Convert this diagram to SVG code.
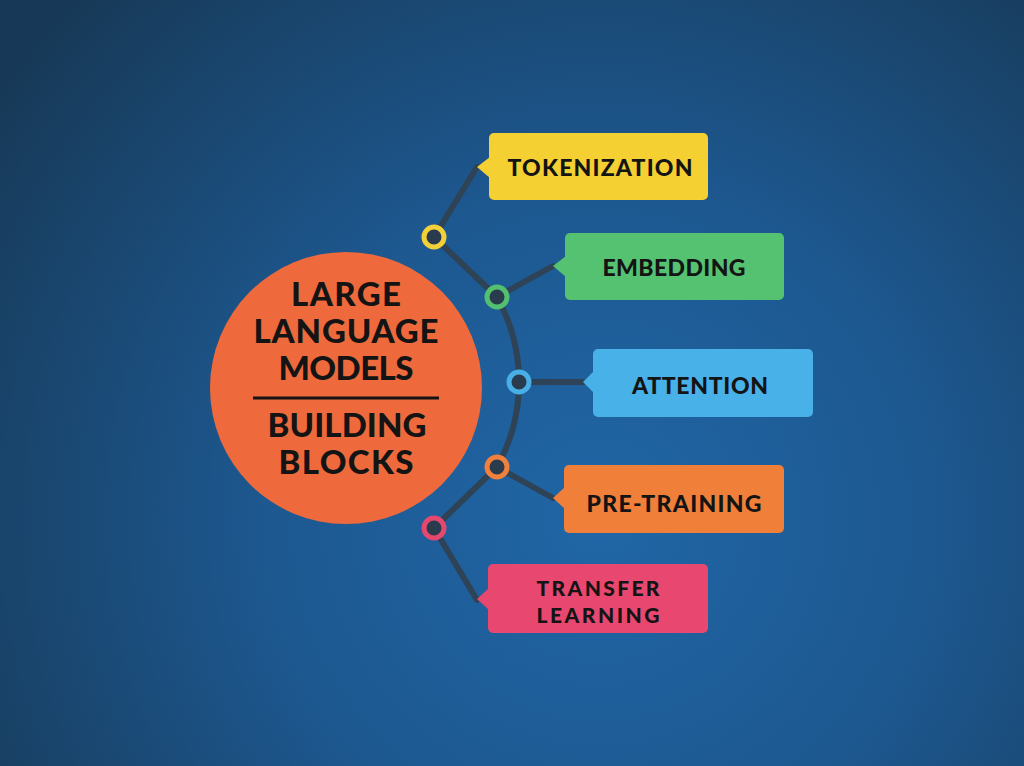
<svg xmlns="http://www.w3.org/2000/svg" width="1024" height="766" viewBox="0 0 1024 766">
<defs>
<radialGradient id="bg" cx="600" cy="520" r="740" gradientUnits="userSpaceOnUse">
<stop offset="0" stop-color="#2066a6"/>
<stop offset="0.45" stop-color="#1d5890"/>
<stop offset="1" stop-color="#173957"/>
</radialGradient>
<style>
.lbl{font-family:"Lato","Open Sans","Liberation Sans",sans-serif;font-weight:900;fill:#141414;font-size:23px;text-anchor:middle}
.lbl2{font-size:21px}
.big{font-family:"Lato","Open Sans","Liberation Sans",sans-serif;font-weight:900;fill:#141414;font-size:33px;text-anchor:middle}
.con{fill:none;stroke:#2f4357;stroke-width:6;stroke-linecap:round;stroke-linejoin:round}
.ring{fill:#2b3b4e;stroke-width:5}
</style>
</defs>
<rect width="1024" height="766" fill="url(#bg)"/>

<g id="connectors">
<path class="con" d="M434,237 L477,167"/>
<path class="con" d="M434,237 L497,297 A175,175 0 0 1 497,467 L434,528"/>
<path class="con" d="M497,297 L553,266"/>
<path class="con" d="M519,382 L583,382"/>
<path class="con" d="M497,467 L553,498"/>
<path class="con" d="M434,528 L477,600"/>
</g>

<g id="center">
<circle cx="346" cy="388" r="136" fill="#ee6a3c"/>
<text class="big" x="346" y="306" textLength="110" lengthAdjust="spacing">LARGE</text>
<text class="big" x="346" y="343" textLength="185" lengthAdjust="spacing">LANGUAGE</text>
<text class="big" x="346" y="380" textLength="135" lengthAdjust="spacing">MODELS</text>
<line x1="253" y1="398" x2="439" y2="398" stroke="#141414" stroke-width="3"/>
<text class="big" x="347" y="437" textLength="159" lengthAdjust="spacing">BUILDING</text>
<text class="big" x="346" y="474" textLength="135" lengthAdjust="spacing">BLOCKS</text>
</g>

<g id="dots">
<circle class="ring" cx="434" cy="237" r="10" stroke="#f2d03a"/>
<circle class="ring" cx="497" cy="297" r="10" stroke="#52c06e"/>
<circle class="ring" cx="519" cy="382" r="10" stroke="#48afe6"/>
<circle class="ring" cx="497" cy="467" r="10" stroke="#f0803c"/>
<circle class="ring" cx="434" cy="528" r="10" stroke="#e4486f"/>
</g>

<g id="tokenization">
<rect x="489" y="133" width="219" height="67" rx="5" fill="#f5d033"/>
<path d="M490,157 L477,167 L490,178 Z" fill="#f5d033"/>
<text class="lbl" x="600" y="176" textLength="185" lengthAdjust="spacing">TOKENIZATION</text>
</g>

<g id="embedding">
<rect x="565" y="233" width="219" height="67" rx="5" fill="#55c271"/>
<path d="M566,256 L553,266 L566,277 Z" fill="#55c271"/>
<text class="lbl" x="674" y="276" textLength="143" lengthAdjust="spacing">EMBEDDING</text>
</g>

<g id="attention">
<rect x="593" y="349" width="220" height="68" rx="5" fill="#47b1e8"/>
<path d="M594,371 L583,382 L594,393 Z" fill="#47b1e8"/>
<text class="lbl" x="700" y="394" textLength="136" lengthAdjust="spacing">ATTENTION</text>
</g>

<g id="pretraining">
<rect x="564" y="465" width="220" height="68" rx="5" fill="#f07f3a"/>
<path d="M565,487 L553,498 L565,509 Z" fill="#f07f3a"/>
<text class="lbl" x="674" y="512" textLength="175" lengthAdjust="spacing">PRE-TRAINING</text>
</g>

<g id="transfer">
<rect x="488" y="564" width="220" height="69" rx="5" fill="#e8476f"/>
<path d="M489,588 L477,599 L489,610 Z" fill="#e8476f"/>
<text class="lbl lbl2" x="598" y="596" textLength="123" lengthAdjust="spacing">TRANSFER</text>
<text class="lbl lbl2" x="598" y="623" textLength="123" lengthAdjust="spacing">LEARNING</text>
</g>
</svg>
